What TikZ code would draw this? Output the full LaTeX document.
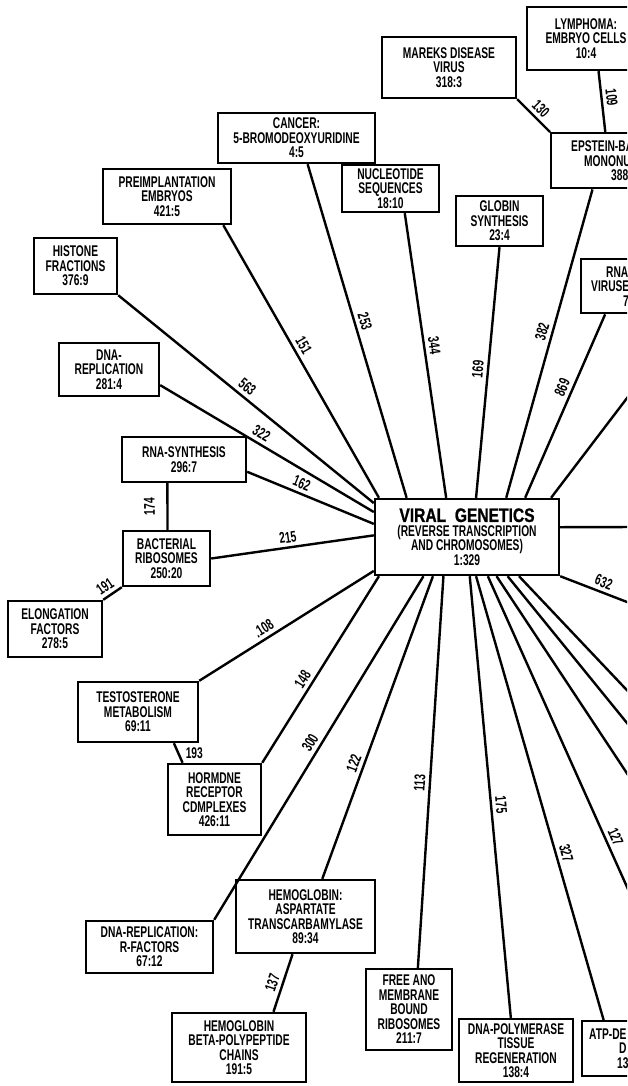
\documentclass[tikz,border=0pt]{standalone}
\usepackage{fontspec}
\setmainfont{Liberation Sans}[FakeStretch=0.66, UprightFont=*-Bold]
\newfontfamily\titlefont{Liberation Sans Bold}[FakeStretch=0.8, FakeBold=1]
\newcommand\boxfont{\fontsize{15.5}{14.5}\selectfont}

\begin{document}
\begin{tikzpicture}[x=1pt,y=-1pt,line width=2.4pt,
  box/.style 2 args={draw, align=center, inner sep=0pt, minimum width=#1, minimum height=#2, font=\boxfont},
  cut/.style={draw, anchor=north west, align=left, inner ysep=0pt, font=\boxfont},
  lab/.style={sloped, above, inner sep=3.5pt, font=\boxfont}]
\useasboundingbox (0,0) rectangle (627,1086);
\clip (0,0) rectangle (627,1086);

\node(Lym)[box={118pt}{63pt}] at (586,38.5) {LYMPHOMA:\\EMBRYO CELLS\\10:4};
\node(Mar)[box={134pt}{61pt}] at (449,67.5) {MAREKS DISEASE\\VIRUS\\318:3};
\node(Eps)[cut, inner xsep=20pt, text width=100pt, minimum height=55pt] at (550,132) {EPSTEIN-BA\\\hspace*{13pt}MONONU\\\hspace*{40pt}388};
\node(Can)[box={157pt}{50pt}] at (296.5,138) {CANCER:\\5-BROMODEOXYURIDINE\\4:5};
\node(Nuc)[box={97pt}{47pt}] at (390.5,188.5) {NUCLEOTIDE\\SEQUENCES\\18:10};
\node(Pre)[box={128pt}{55pt}] at (167,196.5) {PREIMPLANTATION\\EMBRYOS\\421:5};
\node(Glo)[box={87pt}{50pt}] at (499.5,221) {GLOBIN\\SYNTHESIS\\23:4};
\node(RnaV)[cut, inner xsep=10pt, text width=100pt, minimum height=54pt] at (580,258) {\hspace*{15pt}RNA\\VIRUSE\\\hspace*{32pt}7};
\node(His)[box={83pt}{56pt}] at (75.5,266) {HISTONE\\FRACTIONS\\376:9};
\node(DnaR)[box={100pt}{53pt}] at (109,369.5) {DNA-\\REPLICATION\\281:4};
\node(RnaS)[box={124pt}{45pt}] at (184,459.5) {RNA-SYNTHESIS\\296:7};
\node(Bac)[box={87pt}{55pt}] at (166.5,558.5) {BACTERIAL\\RIBOSOMES\\250:20};
\node(Elo)[box={94pt}{56pt}] at (55,629) {ELONGATION\\FACTORS\\278:5};
\node(Vir)[box={184pt}{76pt}] at (467,537) {{\titlefont\fontsize{19.5}{19}\selectfont VIRAL\ \ GENETICS}\\(REVERSE TRANSCRIPTION\\AND CHROMOSOMES)\\1:329};
\node(Tes)[box={120pt}{60pt}] at (138,712) {TESTOSTERONE\\METABOLISM\\69:11};
\node(Hor)[box={93pt}{71pt}] at (214.5,799.5) {HORMDNE\\RECEPTOR\\CDMPLEXES\\426:11};
\node(Rfa)[box={127pt}{52pt}] at (149.5,947) {DNA-REPLICATION:\\R-FACTORS\\67:12};
\node(HemA)[box={139pt}{73pt}] at (305.5,916.5) {HEMOGLOBIN:\\ASPARTATE\\TRANSCARBAMYLASE\\89:34};
\node(HemB)[box={134pt}{69pt}] at (239,1047.5) {HEMOGLOBIN\\BETA-POLYPEPTIDE\\CHAINS\\191:5};
\node(Fre)[box={86pt}{81pt}] at (409,1009.5) {FREE ANO\\MEMBRANE\\BOUND\\RIBOSOMES\\211:7};
\node(Pol)[box={114pt}{63pt}] at (516,1050.5) {DNA-POLYMERASE\\TISSUE\\REGENERATION\\138:4};
\node(Atp)[cut, inner xsep=7pt, text width=105pt, minimum height=55pt] at (581,1020) {ATP-DE\\\hspace*{30pt}D\\\hspace*{28pt}13};

% lines running off the right edge
\coordinate(E1) at (640,381);
\coordinate(E2) at (640,527);
\coordinate(E3) at (640,607);
\coordinate(E4) at (640,704);
\coordinate(E5) at (640,739);
\coordinate(E6) at (640,793);
\coordinate(E7) at (640,916);

\draw (Lym.291) -- node[lab, pos=.45] {109} (Eps.119);
\draw (Mar.south east) -- node[lab] {130} (Eps.north west);
\draw (Eps.225) -- node[lab, pos=.47] {382} (Vir.45);
\draw (RnaV.218) -- node[lab, pos=.42] {869} (Vir.34);
\draw (E1) -- (Vir.25);
\draw (Glo.south) -- node[lab, pos=.49] {169} (Vir.77);
\draw (Nuc.300) -- node[lab, pos=.47] {344} (Vir.118);
\draw (Can.293) -- node[lab, pos=.48] {253} (Vir.147);
\draw (Pre.333) -- node[lab, pos=.46] {151} (Vir.156);
\draw (His.south east) -- node[lab, pos=.48] {563} (Vir.160);
\draw (DnaR.343) -- node[lab, pos=.45] {322} (Vir.165);
\draw (RnaS.349) -- node[lab, pos=.4] {162} (Vir.172);
\draw (Bac.88) -- node[lab, allow upside down, above=8pt] {174} (RnaS.235);
\draw (Bac.east) -- node[lab, pos=.48] {215} (Vir.179);
\draw (Elo.north east) -- node[lab, pos=.4] {191} (Bac.south west);
\draw (Tes.north east) -- node[lab, pos=.4] {.108} (Vir.200);
\draw (Tes.319) -- node[right=3pt, font=\boxfont] {193} (Hor.131);
\draw (Hor.north east) -- node[lab, pos=.42] {148} (Vir.204);
\draw (Rfa.north east) -- node[lab, pos=.5] {300} (Vir.222);
\draw (HemA.66) -- node[lab, pos=.37] {122} (Vir.229);
\draw (HemA.251) -- node[lab, pos=.55] {137} (HemB.46);
\draw (Fre.78) -- node[lab, pos=.47] {113} (Vir.239);
\draw (Pol.99) -- node[lab, pos=.48] {175} (Vir.274);
\draw (Atp.143) -- node[lab, pos=.37] {327} (Vir.283);
\draw (E7) -- node[lab, pos=.22] {127} (Vir.298);
\draw (E6) -- (Vir.307);
\draw (E5) -- (Vir.316);
\draw (E4) -- (Vir.323);
\draw (Vir.south east) -- node[lab, pos=.5] {632} (E3);
\draw (Vir.6) -- (E2);
\end{tikzpicture}
\end{document}
